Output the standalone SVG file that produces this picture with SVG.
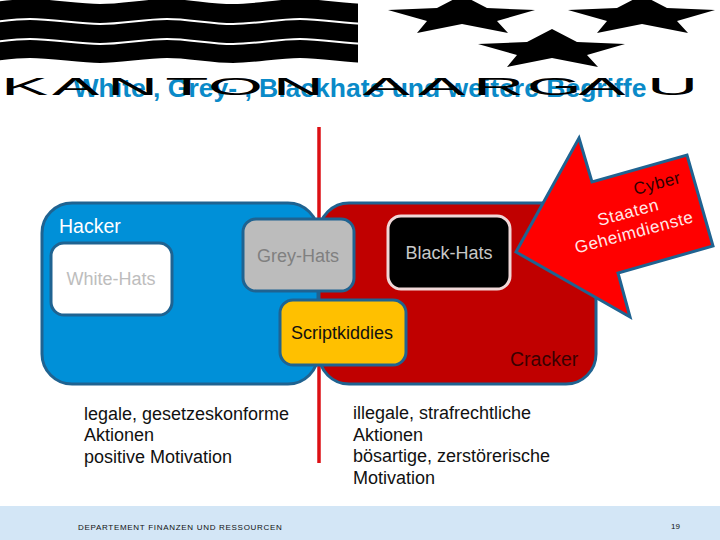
<svg xmlns="http://www.w3.org/2000/svg" width="720" height="540" viewBox="0 0 720 540">
<style>
text{font-family:"Liberation Sans",Arial,sans-serif}
.box{stroke:#1f6391;stroke-width:3}
.lbl{font-size:18px}
.big{font-size:19.5px}
.body{font-size:18px;fill:#111}
.logo{font-size:24px;fill:#000}
.arr{font-size:17px;letter-spacing:.6px;text-anchor:middle}
.wave{fill:none;stroke:#fff;stroke-width:2}
.edge{fill:none;stroke:#fff;stroke-width:10}
</style>
<defs>
<polygon id="star" points="552,29 577,42 625,44 587,55 598,67 552,58 507,67 517,55 478,44 527,42"/>
<path id="w" d="M-33,24 C-10,24 7,19 30,19 S78,24 100,24 S145,19 167,19 S210,24 233,24 S277,19 300,19 S345,24 367,24"/>
</defs>
<rect width="720" height="540" fill="#fff"/>
<text id="title" x="360" y="97" text-anchor="middle" font-size="26.5" font-weight="bold" fill="#0a8ac8">White , Grey- , Blackhats und weitere Begriffe</text>
<g id="logo">
<rect x="0" y="0" width="358" height="66" fill="#000"/>
<use href="#w" class="edge" y="-25"/>
<use href="#w" class="wave" y="0"/>
<use href="#w" class="wave" y="20"/>
<use href="#w" class="edge" y="44"/>
<rect x="358" y="0" width="10" height="70" fill="#fff"/>
<use href="#star"/>
<use href="#star" transform="translate(-90,-34)"/>
<use href="#star" transform="translate(90,-34)"/>
<text class="logo" transform="translate(0,95) scale(2.95,1)" x="0.3 17.6 36.3 56 70.5 92.5 123 141.7 160.3 178.6 196 219.3">KANTONAARGAU</text>
</g>
<g id="connectors">
<line x1="319" y1="127" x2="319" y2="463" stroke="#dc0f14" stroke-width="3.5"/>
</g>
<g id="cracker">
<rect class="box" x="319" y="203" width="277" height="181" rx="30" fill="#c00000"/>
<text class="big" x="510" y="366" fill="#3a0000">Cracker</text>
</g>
<g id="hacker">
<rect class="box" x="42" y="203" width="276" height="181" rx="30" fill="#0090d8"/>
<text class="big" x="59" y="233" fill="#fff">Hacker</text>
</g>
<g id="white-hats">
<rect class="box" x="51" y="243" width="121" height="72" rx="13" fill="#fff"/>
<text class="lbl" x="111" y="285" text-anchor="middle" fill="#bdbdbd">White-Hats</text>
</g>
<g id="grey-hats">
<rect class="box" x="243" y="219" width="111" height="72" rx="13" fill="#bcbcbc"/>
<text class="lbl" x="298" y="262" text-anchor="middle" fill="#808080">Grey-Hats</text>
</g>
<g id="black-hats">
<rect x="388" y="216" width="122" height="73" rx="13" fill="#000" stroke="#f0d8d8" stroke-width="3"/>
<text class="lbl" x="449" y="259" text-anchor="middle" fill="#c8c8c8">Black-Hats</text>
</g>
<g id="scriptkiddies">
<rect class="box" x="280" y="300" width="126" height="65" rx="13" fill="#ffc000"/>
<text class="lbl" x="342" y="339" text-anchor="middle" fill="#111">Scriptkiddies</text>
</g>
<g id="arrow">
<polygon points="579,138 592,182 687,155 713,246 618,273 630,317 516,252" fill="#ff0000" stroke="#1f6391" stroke-width="3"/>
<text class="arr" transform="translate(657,183) rotate(-15)" y="6" fill="#300000">Cyber</text>
<text class="arr" transform="translate(628,212) rotate(-15)" y="6" fill="#ffe8e8">Staaten</text>
<text class="arr" transform="translate(634,232) rotate(-15)" y="6" fill="#ffe8e8">Geheimdienste</text>
</g>
<g id="left-text">
<text x="84" y="420" class="body">legale, gesetzeskonforme</text>
<text x="84" y="441" class="body">Aktionen</text>
<text x="84" y="463" class="body">positive Motivation</text>
</g>
<g id="right-text">
<text x="353" y="419" class="body">illegale, strafrechtliche</text>
<text x="353" y="441" class="body">Aktionen</text>
<text x="353" y="462" class="body">bösartige, zerstörerische</text>
<text x="353" y="484" class="body">Motivation</text>
</g>
<g id="footer">
<rect y="506" width="720" height="34" fill="#d3e6f6"/>
<text x="78" y="530" font-size="8" letter-spacing=".7" fill="#111">DEPARTEMENT FINANZEN UND RESSOURCEN</text>
<text x="671" y="529" font-size="8" fill="#111">19</text>
</g>
</svg>
